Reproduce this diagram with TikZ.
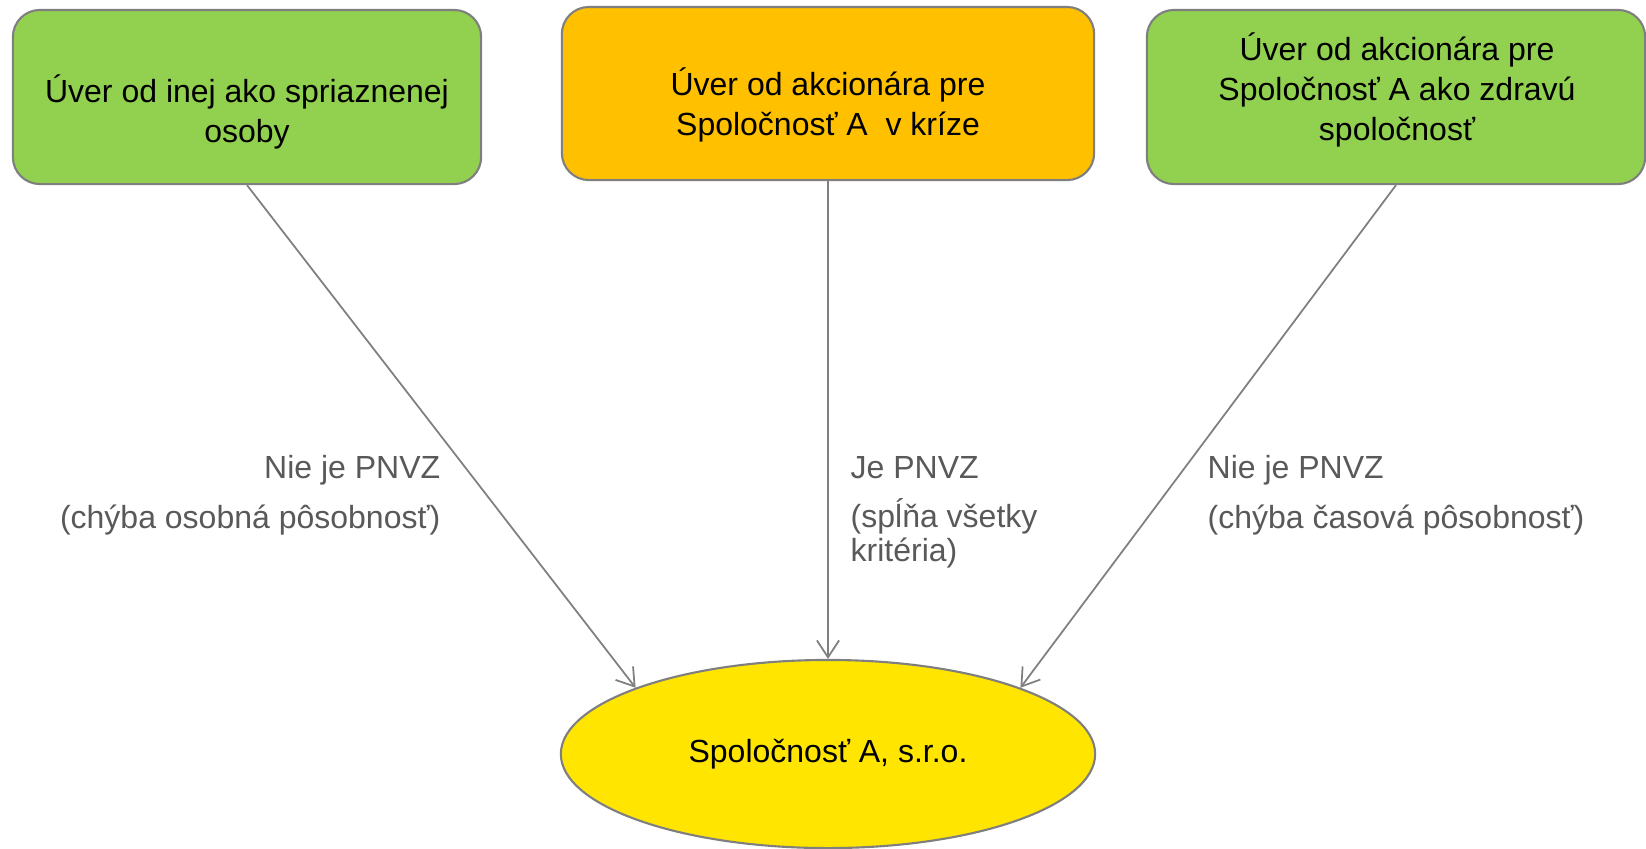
\documentclass[tikz,border=0pt]{standalone}
\usepackage{fontspec}
\setmainfont{Liberation Sans}
\usetikzlibrary{shapes.geometric,arrows.meta,calc}
\definecolor{boxgreen}{HTML}{92D050}
\definecolor{boxorange}{HTML}{FFC000}
\definecolor{ovalyellow}{HTML}{FFE500}
\definecolor{edgegray}{HTML}{7F7F7F}
\definecolor{notegray}{HTML}{595959}
\tikzset{
  loan scheme/.style={
    x=0.01cm, y=-0.01cm,
    loan box/.style={rectangle, rounded corners=0.27cm, draw=edgegray, line width=0.6pt, inner sep=0pt},
    loan text/.style={font={\fontsize{9.1}{11.3}\selectfont}, align=center, inner sep=0pt},
    company/.style={ellipse, draw=edgegray, line width=0.6pt, fill=ovalyellow, inner sep=0pt,
        minimum width=5.34cm, minimum height=1.88cm, font={\fontsize{9.1}{11.3}\selectfont}},
    link/.style={edgegray, line width=0.5pt, -{Straight Barb[length=4.8pt,width=6.3pt]}},
    link note/.style={font={\fontsize{9.1}{9.4}\selectfont}, text=notegray, inner sep=0pt},
  }
}

\begin{document}
\begin{tikzpicture}[loan scheme]
    \useasboundingbox (0,0) rectangle (1646,848);
    % lenders
    \node[loan box, fill=boxgreen, minimum width=4.68cm, minimum height=1.74cm] (other) at (247,97) {};
    \node[loan box, fill=boxorange, minimum width=5.32cm, minimum height=1.73cm] (crisis) at (828,93.5) {};
    \node[loan box, fill=boxgreen, minimum width=4.98cm, minimum height=1.74cm] (healthy) at (1396,97) {};
    \node[loan text] (other text) at (247,112) {Úver od inej ako spriaznenej\\osoby};
    \node[loan text] (crisis text) at (828,105) {Úver od akcionára pre\\Spoločnosť A\ \ v kríze};
    \node[loan text] (healthy text) at (1397,90) {Úver od akcionára pre\\Spoločnosť A ako zdravú\\spoločnosť};
    % borrower
    \node[company] (firm) at (828,754) {Spoločnosť A, s.r.o.};
    \draw[link] (other.south) -- (firm.161);
    \draw[link] (crisis.south) -- (firm.north);
    \draw[link] (healthy.south) -- (firm.19);
    % base = baseline of the last line
    \node[link note, align=right, anchor=base east] (other note) at (441,528)
        {Nie je PNVZ\\[4.8pt](chýba osobná pôsobnosť)};
    \node[link note, align=left, anchor=base west] (crisis note) at (850,561)
        {Je PNVZ\\[4.8pt](spĺňa všetky\\kritéria)};
    \node[link note, align=left, anchor=base west] (healthy note) at (1207,528)
        {Nie je PNVZ\\[4.8pt](chýba časová pôsobnosť)};
\end{tikzpicture}
\end{document}
